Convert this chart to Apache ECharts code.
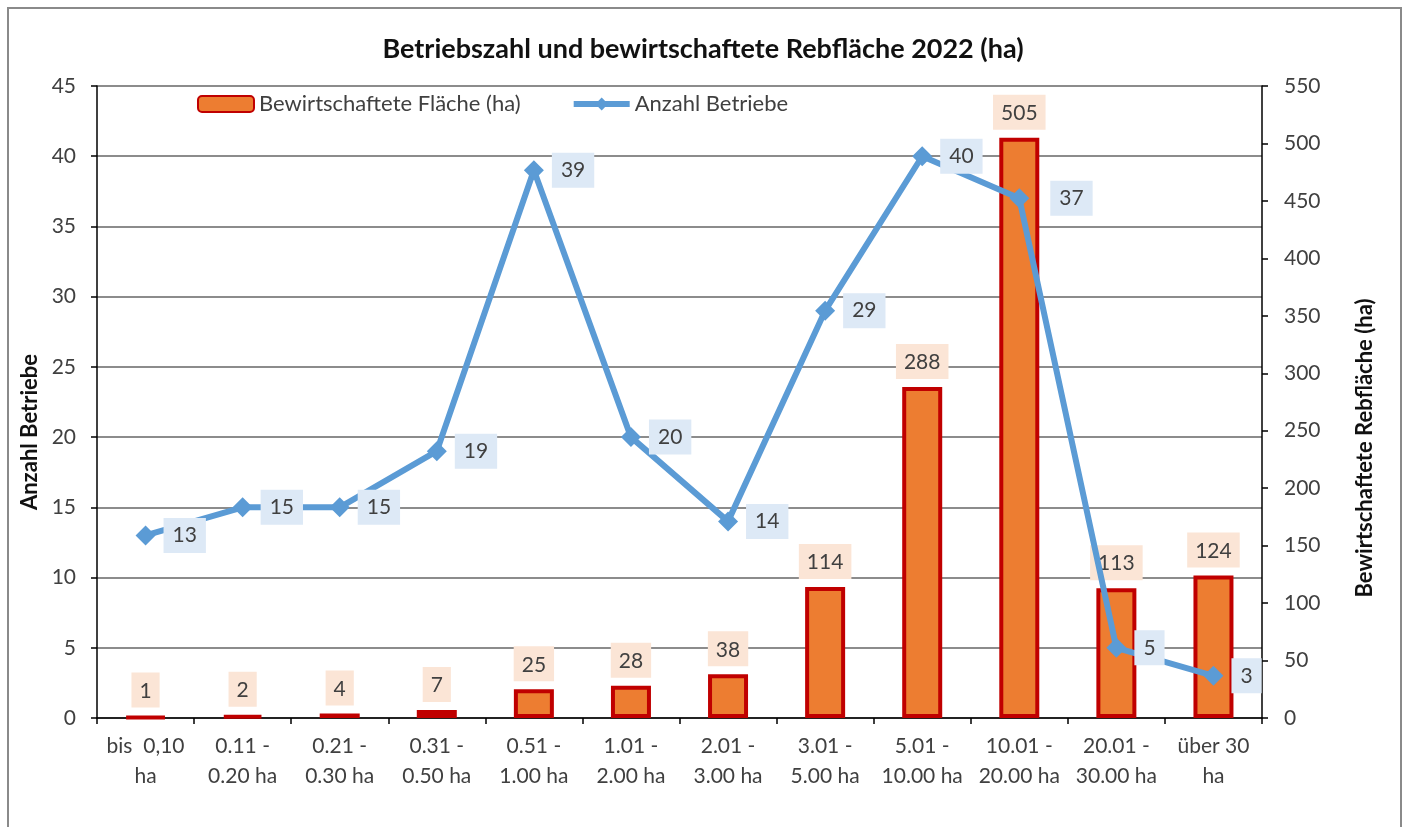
<!DOCTYPE html>
<html>
<head>
<meta charset="utf-8">
<script src="https://cdn.jsdelivr.net/npm/echarts@6/dist/echarts.min.js"></script>
<style>
html,body{margin:0;padding:0;background:#fff;}
#c{width:1406px;height:827px;}
</style>
</head>
<body>
<div id="c"></div>
<script>
const categories = ["bis  0,10\nha","0.11 -\n0.20 ha","0.21 -\n0.30 ha","0.31 -\n0.50 ha","0.51 -\n1.00 ha","1.01 -\n2.00 ha","2.01 -\n3.00 ha","3.01 -\n5.00 ha","5.01 -\n10.00 ha","10.01 -\n20.00 ha","20.01 -\n30.00 ha","über 30\nha"];
const flaeche = [1,2,4,7,25,28,38,114,288,505,113,124];
const betriebe = [13,15,15,19,39,20,14,29,40,37,5,3];
const leftTicks = {min:0,max:45,interval:5};
const rightTicks = {min:0,max:550,interval:50};

const FONT = 'Lato';
const TXT = '#404040';

const chart = echarts.init(document.getElementById('c'), null, {renderer:'canvas'});
const lineData = betriebe.map((v,i)=> i===9 ? {value:v,label:{distance:21}} : v);

chart.setOption({
  animation:false,
  backgroundColor:'#fff',
  textStyle:{fontFamily:FONT},
  graphic:[{type:'rect',shape:{x:8,y:8,width:1393,height:840},style:{fill:'none',stroke:'#8a8a8a',lineWidth:2},silent:true,z:-1}],
  title:{text:'Betriebszahl und bewirtschaftete Rebfläche 2022 (ha)',left:'center',top:31,
    textStyle:{fontFamily:FONT,fontWeight:'bold',fontSize:27,color:'#111'}},
  legend:{left:192,top:88,itemWidth:56,itemHeight:16,itemGap:50,
    textStyle:{fontFamily:FONT,fontSize:22,color:TXT},
    data:[{name:'Bewirtschaftete Fläche (ha)'},{name:'Anzahl Betriebe',lineStyle:{width:6,color:'#5b9bd5'}}]},
  grid:{left:97,right:144,top:86,bottom:109,containLabel:false},
  xAxis:{type:'category',data:categories,boundaryGap:true,
    axisLine:{lineStyle:{color:'#000',width:1.5}},
    axisTick:{show:true,length:6,lineStyle:{color:'#000',width:1.5}},
    axisLabel:{interval:0,color:TXT,fontSize:21,fontFamily:FONT,lineHeight:30,margin:13}},
  yAxis:[
    {type:'value',min:leftTicks.min,max:leftTicks.max,interval:leftTicks.interval,position:'left',
     name:'Anzahl Betriebe',nameLocation:'middle',nameRotate:90,nameGap:56,
     nameTextStyle:{fontFamily:FONT,fontWeight:'bold',fontSize:22,color:'#111',padding:[0,60,0,0]},
     axisLine:{show:true,lineStyle:{color:'#000',width:1.5}},
     axisTick:{show:true,length:6,lineStyle:{color:'#000',width:1.5}},
     axisLabel:{color:TXT,fontSize:21,fontFamily:FONT,margin:21},
     splitLine:{show:true,lineStyle:{color:'#8c8c8c',width:2}}},
    {type:'value',min:rightTicks.min,max:rightTicks.max,interval:rightTicks.interval,position:'right',
     name:'Bewirtschaftete Rebfläche (ha)',nameLocation:'middle',nameRotate:90,nameGap:92,
     nameTextStyle:{fontFamily:FONT,fontWeight:'bold',fontSize:22,color:'#111',padding:[0,92,0,0]},
     axisLine:{show:true,lineStyle:{color:'#000',width:1.5}},
     axisTick:{show:true,length:6,lineStyle:{color:'#000',width:1.5}},
     axisLabel:{color:TXT,fontSize:21,fontFamily:FONT,margin:22},
     splitLine:{show:false}}
  ],
  series:[
    {name:'Bewirtschaftete Fläche (ha)',type:'bar',yAxisIndex:1,data:flaeche,barWidth:40,z:2,
     itemStyle:{color:'#ed7d31',borderColor:'#c00000',borderWidth:4},
     label:{show:true,position:'top',distance:8,color:TXT,fontSize:21,fontFamily:FONT,
       backgroundColor:'#fbe5d6',padding:[8,8,6,8]}},
    {name:'Anzahl Betriebe',type:'line',yAxisIndex:0,data:lineData,z:3,
     symbol:'diamond',symbolSize:20,
     lineStyle:{color:'#5b9bd5',width:6},
     itemStyle:{color:'#5b9bd5'},
     label:{show:true,position:'right',distance:8,color:TXT,fontSize:21,fontFamily:FONT,
       backgroundColor:'#dde9f6',padding:[8,9,6,9]}}
  ]
});
</script>
</body>
</html>
